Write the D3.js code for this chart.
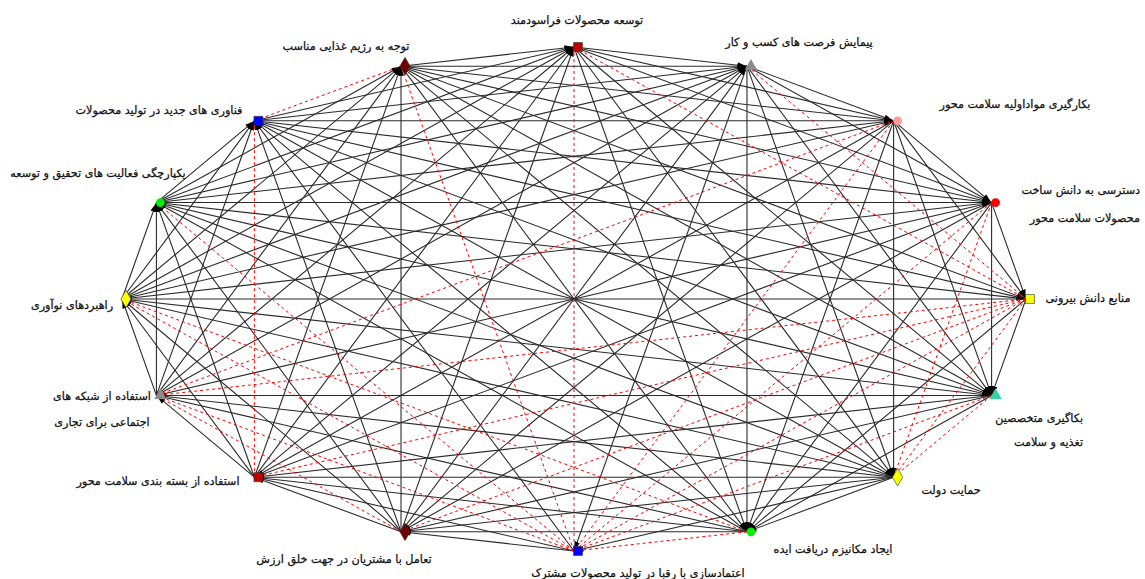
<!DOCTYPE html>
<html>
<head>
<meta charset="utf-8">
<script src="https://cdn.jsdelivr.net/npm/d3@7"></script>
<style>
  html, body { margin: 0; padding: 0; background: #fff; }
  svg { display: block; }
  text { font-family: "DejaVu Sans", sans-serif; fill: #111; }
</style>
</head>
<body>
<svg id="chart" width="1145" height="579"></svg>
<script>
// ---- data ----
const nodeLabels = [
  ["توسعه محصولات فراسودمند"],
  ["پیمایش فرصت های کسب و کار"],
  ["بکارگیری مواداولیه سلامت محور"],
  ["دسترسی به دانش ساخت", "محصولات سلامت محور"],
  ["منابع دانش بیرونی"],
  ["بکاگیری متخصصین", "تغذیه و سلامت"],
  ["حمایت دولت"],
  ["ایجاد مکانیزم دریافت ایده"],
  ["اعتمادسازی با رقبا در تولید محصولات مشترک"],
  ["تعامل با مشتریان در جهت خلق ارزش"],
  ["استفاده از بسته بندی سلامت محور"],
  ["استفاده از شبکه های", "اجتماعی برای تجاری"],
  ["راهبردهای نوآوری"],
  ["یکپارچگی فعالیت های تحقیق و توسعه"],
  ["فناوری های جدید در تولید محصولات"],
  ["توجه به رژیم غذایی مناسب"]
];
const nodeShapes = ["square","triangle","circle","circle","square","triangle","diamond","circle",
                    "square","diamond","square","triangle","diamond","circle","square","diamond"];
const nodeColors = ["#c00000","#8c8c8c","#ff9a9a","#ff0000","#ffff00","#33d6a0","#ffff00","#00ee00",
                    "#0000ff","#700000","#c00000","#8c8c8c","#ffff00","#00ee00","#0000ff","#700000"];
// red dashed ties (1-based node ids)
const redTies = [
  [1,9],[16,9],[14,9],[13,9],[12,9],[3,9],[4,9],[5,9],[6,9],[8,9],
  [2,5],[7,5],[10,5],[11,5],[12,5],[1,5],
  [15,16],[15,11],[6,7],[4,7],[3,12],[12,10],[13,8]
];

// ---- layout (label placement) ----
const labelLayout = [
  {x:577, y:24, a:"middle"},
  {x:799, y:46, a:"middle"},
  {x:1015, y:108, a:"middle"},
  {x:1140, y:194, a:"end", dy:28},
  {x:1088, y:302, a:"middle"},
  {x:1083, y:422, a:"end", dy:24},
  {x:951, y:494, a:"middle"},
  {x:833, y:553, a:"middle"},
  {x:638, y:577, a:"middle"},
  {x:344, y:563, a:"middle"},
  {x:158, y:485, a:"middle"},
  {x:102, y:400, a:"middle", dy:26},
  {x:72, y:309, a:"middle"},
  {x:98, y:177, a:"middle"},
  {x:159, y:114, a:"middle"},
  {x:346, y:50, a:"middle"}
];

const svg = d3.select("#chart");
const n = nodeLabels.length;
const angle = d3.scaleLinear().domain([0, n]).range([0, 2 * Math.PI]);
const xS = d3.scaleLinear().domain([-1, 1]).range([122, 1026]);
const yS = d3.scaleLinear().domain([-1, 1]).range([47, 551]);

const nodes = nodeLabels.map((lab, i) => ({
  id: i + 1, label: lab, shape: nodeShapes[i], color: nodeColors[i],
  x: xS(Math.sin(angle(i))), y: yS(-Math.cos(angle(i)))
}));

const redSet = new Set(redTies.map(([a, b]) => a < b ? a + "-" + b : b + "-" + a));
const ties = [];
for (let i = 1; i <= n; i++) {
  for (let j = i + 1; j <= n; j++) {
    const d = (j - i) % n;
    let s = i, t = j;
    if (d > n / 2 || (d === n / 2 && i % 2 === 0)) { s = j; t = i; }
    ties.push({s: nodes[s - 1], t: nodes[t - 1], red: redSet.has(i + "-" + j)});
  }
}

const defs = svg.append("defs");
defs.append("marker")
  .attr("id", "arrowB").attr("viewBox", "0 -4 9 8")
  .attr("refX", 9.5).attr("refY", 0)
  .attr("markerWidth", 9).attr("markerHeight", 8)
  .attr("markerUnits", "userSpaceOnUse")
  .attr("orient", "auto")
  .append("path").attr("d", "M0,-2.8L9,0L0,2.8Z").attr("fill", "#000");

const gE = svg.append("g");
gE.selectAll("line.black").data(ties.filter(d => !d.red)).join("line")
  .attr("class", "black")
  .attr("x1", d => d.s.x).attr("y1", d => d.s.y)
  .attr("x2", d => d.t.x).attr("y2", d => d.t.y)
  .attr("stroke", "#2a2a2a").attr("stroke-width", 1.1)
  .attr("marker-end", "url(#arrowB)");
gE.selectAll("line.red").data(ties.filter(d => d.red)).join("line")
  .attr("class", "red")
  .attr("x1", d => d.s.x).attr("y1", d => d.s.y)
  .attr("x2", d => d.t.x).attr("y2", d => d.t.y)
  .attr("stroke", "#ff0000").attr("stroke-width", 1)
  .attr("stroke-dasharray", "3,3");

const sym = {
  square: d3.symbol().type(d3.symbolSquare).size(80),
  circle: d3.symbol().type(d3.symbolCircle).size(60),
  triangle: d3.symbol().type(d3.symbolTriangle).size(65),
  diamond: d3.symbol().type(d3.symbolDiamond).size(90)
};
svg.append("g").selectAll("path").data(nodes).join("path")
  .attr("transform", d => `translate(${d.x + 4},${d.y})`)
  .attr("d", d => sym[d.shape]())
  .attr("fill", d => d.color)
  .attr("stroke", d => (d.shape === "square" || d.shape === "diamond") ? "#333" : "none")
  .attr("stroke-width", 0.6);

const gL = svg.append("g");
nodes.forEach((d, i) => {
  const L = labelLayout[i];
  d.label.forEach((line, k) => {
    gL.append("text")
      .attr("x", L.x).attr("y", L.y + k * (L.dy || 0))
      .attr("text-anchor", L.a)
      .attr("font-size", 11.2)
      .attr("stroke", "#111").attr("stroke-width", 0.25)
      .text(line);
  });
});
</script>
</body>
</html>
